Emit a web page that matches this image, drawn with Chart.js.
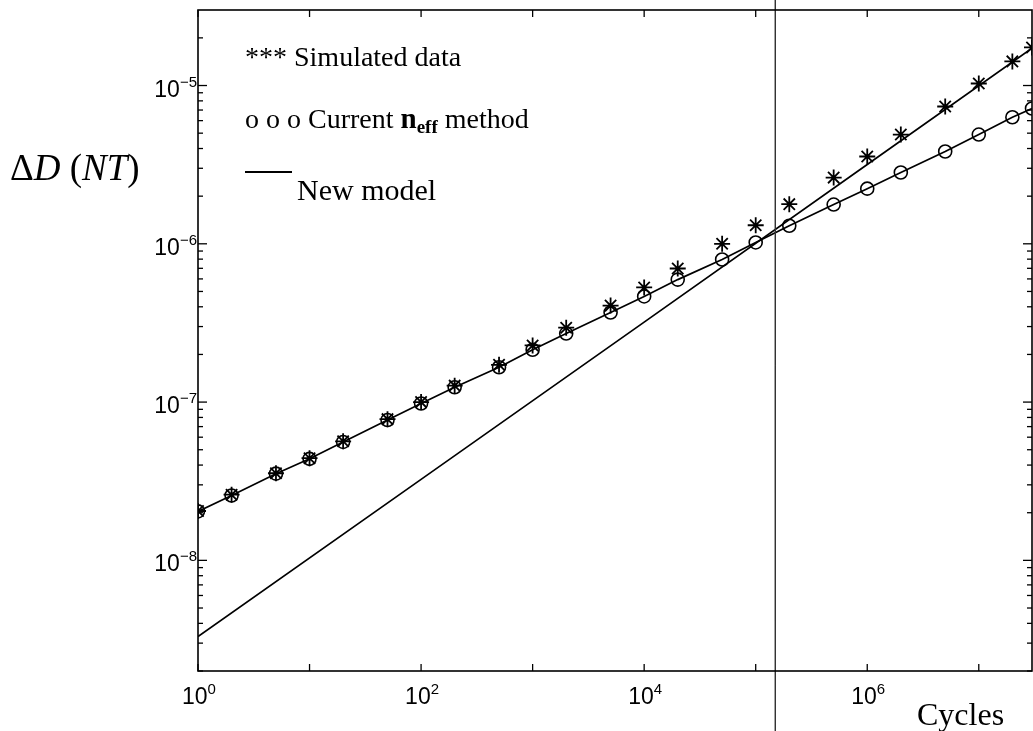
<!DOCTYPE html>
<html>
<head>
<meta charset="utf-8">
<script src="https://cdn.jsdelivr.net/npm/chart.js@4.4.1/dist/chart.umd.min.js"></script>
<style>
html, body { margin: 0; padding: 0; background: #fff; }
</style>
</head>
<body>
<canvas id="chart" width="1033" height="731"></canvas>
<script>
// values
const cycles = [1, 2, 5, 10, 20, 50, 100, 200, 500, 1e3, 2e3, 5e3, 1e4, 2e4, 5e4, 1e5, 2e5, 5e5, 1e6, 2e6, 5e6, 1e7, 2e7, 3e7];
const simulated = [2.05e-8, 2.6e-8, 3.55e-8, 4.42e-8, 5.65e-8, 7.8e-8, 1.0e-7, 1.27e-7, 1.72e-7, 2.28e-7, 2.95e-7, 4.07e-7, 5.3e-7, 6.98e-7, 1.0e-6, 1.31e-6, 1.78e-6, 2.62e-6, 3.56e-6, 4.9e-6, 7.37e-6, 1.03e-5, 1.42e-5, 1.74e-5];
const currentNeff = [2.04e-8, 2.57e-8, 3.53e-8, 4.38e-8, 5.6e-8, 7.7e-8, 9.8e-8, 1.24e-7, 1.66e-7, 2.14e-7, 2.71e-7, 3.68e-7, 4.65e-7, 5.94e-7, 7.96e-7, 1.02e-6, 1.3e-6, 1.77e-6, 2.23e-6, 2.82e-6, 3.83e-6, 4.9e-6, 6.3e-6, 7.16e-6];
const newModelCycles = [1, 1e2, 1e4, 1e6, 3e7];
const newModel = [3.3e-9, 3.25e-8, 3.2e-7, 3.17e-6, 1.72e-5];
const markerCycles = [1.5e5, 1.5e5];
const markerLevels = [3.6e-5, 8e-10];
const xTickExps = [0, 2, 4, 6];
const yTickExps = [-8, -7, -6, -5];

const pts = (xs, ys) => xs.map((x, i) => ({ x: x, y: ys[i] }));

function line(ctx, x1, y1, x2, y2) {
    ctx.beginPath();
    ctx.moveTo(x1, y1);
    ctx.lineTo(x2, y2);
    ctx.stroke();
}

// "10" with a raised exponent; y is the baseline of "10"
function drawPow(ctx, exp, x, y, align) {
    const base = "10", sup = String(exp).replace("-", "\u2212");
    const bigFont = "23px 'Liberation Sans', Arial, sans-serif";
    const smallFont = "15px 'Liberation Sans', Arial, sans-serif";
    ctx.font = bigFont;
    const wb = ctx.measureText(base).width;
    ctx.font = smallFont;
    const ws = ctx.measureText(sup).width;
    let left = align === "right" ? x - wb - ws : x - (wb + ws) / 2;
    ctx.textAlign = "left";
    ctx.textBaseline = "alphabetic";
    ctx.font = bigFont;
    ctx.fillText(base, left, y);
    ctx.font = smallFont;
    ctx.fillText(sup, left + wb, y - 10);
}

// draw a run of [text, font, dy] pieces from x on one baseline
function drawRun(ctx, pieces, x, y) {
    ctx.textAlign = "left";
    ctx.textBaseline = "alphabetic";
    pieces.forEach(p => {
        ctx.font = p[1];
        ctx.fillText(p[0], x, y + (p[2] || 0));
        x += ctx.measureText(p[0]).width;
    });
}

const serif = "'Liberation Serif', 'Times New Roman', serif";

const axesPlugin = {
    id: "axesPlugin",
    afterDraw(chart) {
        const ctx = chart.ctx, a = chart.chartArea;
        const xs = chart.scales.x, ys = chart.scales.y;
        ctx.save();
        ctx.strokeStyle = "#000";
        ctx.fillStyle = "#000";
        ctx.lineWidth = 1.6;
        ctx.strokeRect(a.left, a.top, a.right - a.left, a.bottom - a.top);

        ctx.lineWidth = 1.3;
        for (let e = 0; e <= 7; e++) {
            const px = xs.getPixelForValue(Math.pow(10, e));
            line(ctx, px, a.bottom, px, a.bottom - 7);
            line(ctx, px, a.top, px, a.top + 7);
        }
        for (let e = -9; e <= -5; e++) {
            for (let m = 1; m <= 9; m++) {
                const v = m * Math.pow(10, e);
                if (v < ys.min || v > ys.max) continue;
                const py = ys.getPixelForValue(v);
                const len = m === 1 ? 9 : 5;
                line(ctx, a.left, py, a.left + len, py);
                line(ctx, a.right, py, a.right - len, py);
            }
        }

        xTickExps.forEach(e => drawPow(ctx, e, xs.getPixelForValue(Math.pow(10, e)) + 1, a.bottom + 33, "center"));
        yTickExps.forEach(e => drawPow(ctx, e, a.left - 1, ys.getPixelForValue(Math.pow(10, e)) + 11, "right"));

        // axis titles
        drawRun(ctx, [
            ["\u0394", "37px " + serif],
            ["D", "italic 37px " + serif],
            [" (", "37px " + serif],
            ["NT", "italic 37px " + serif],
            [")", "37px " + serif]
        ], 10, 180);
        drawRun(ctx, [["Cycles", "32px " + serif]], 917, 725);

        // legend
        drawRun(ctx, [["*** Simulated data", "28px " + serif]], 245, 66);
        drawRun(ctx, [
            ["o o o Current ", "28px " + serif],
            ["n", "bold 29px " + serif],
            ["eff", "bold 19px " + serif, 5],
            [" method", "28px " + serif]
        ], 245, 128);
        ctx.lineWidth = 2;
        line(ctx, 245, 172, 292, 172);
        drawRun(ctx, [["New model", "30px " + serif]], 297, 200);
        ctx.restore();
    }
};

new Chart(document.getElementById("chart"), {
    type: "scatter",
    data: {
        datasets: [
            {
                label: "marker",
                data: pts(markerCycles, markerLevels),
                showLine: true,
                borderColor: "#333",
                borderWidth: 1,
                pointRadius: 0,
                clip: false
            },
            {
                label: "New model",
                data: pts(newModelCycles, newModel),
                showLine: true,
                borderColor: "#000",
                borderWidth: 1.7,
                pointRadius: 0
            },
            {
                label: "Current neff method",
                data: pts(cycles, currentNeff),
                showLine: true,
                borderColor: "#000",
                borderWidth: 1.7,
                pointStyle: "circle",
                pointRadius: 6.5,
                pointBorderWidth: 1.6,
                pointBackgroundColor: "rgba(0,0,0,0)",
                pointBorderColor: "#000"
            },
            {
                label: "Simulated data",
                data: pts(cycles, simulated),
                showLine: false,
                pointStyle: "star",
                pointRadius: 8,
                pointBorderWidth: 1.8,
                pointBorderColor: "#000",
                pointBackgroundColor: "#000"
            }
        ]
    },
    options: {
        responsive: false,
        animation: false,
        devicePixelRatio: 1,
        layout: { autoPadding: false, padding: { top: 10, right: 1, left: 0, bottom: 0 } },
        plugins: { legend: { display: false }, tooltip: { enabled: false } },
        scales: {
            x: {
                type: "logarithmic",
                min: 1,
                max: 3e7,
                grid: { display: false },
                border: { display: false },
                ticks: { display: false },
                afterFit: (scale) => {
                    scale.height = 60;
                    scale.paddingLeft = 0;
                    scale.paddingRight = 0;
                }
            },
            y: {
                type: "logarithmic",
                min: 2e-9,
                max: 3e-5,
                grid: { display: false },
                border: { display: false },
                ticks: { display: false },
                afterFit: (scale) => {
                    scale.width = 198;
                    scale.paddingTop = 0;
                    scale.paddingBottom = 0;
                }
            }
        }
    },
    plugins: [axesPlugin]
});
</script>
</body>
</html>
